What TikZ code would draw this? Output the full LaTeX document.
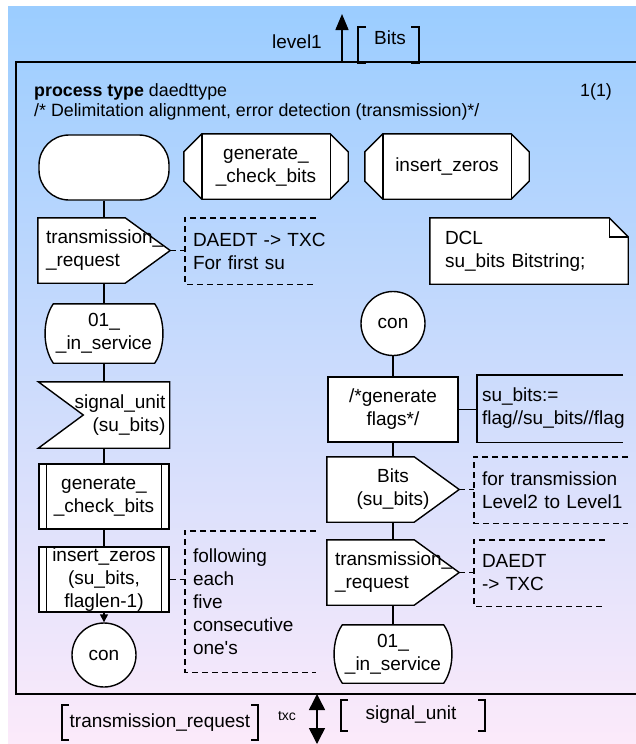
\documentclass[tikz,border=0pt]{standalone}
\usepackage{fontspec}
\setmainfont{Liberation Sans}
\usetikzlibrary{positioning}
\usetikzlibrary{arrows.meta}
\usetikzlibrary{calc}
\pgfdeclarelayer{back}
\pgfdeclarelayer{outline}
\pgfsetlayers{back,outline,main}
\definecolor{skytop}{RGB}{155,205,255}
\definecolor{pinkbot}{RGB}{252,234,250}
\tikzset{
  lbl/.style={inner sep=0pt,font=\fontsize{19}{23}\selectfont,align=center},
  hdrlbl/.style={inner sep=0pt,font=\fontsize{17.8}{21}\selectfont},
  ln/.style={draw=black,line width=1.4pt},
  symb/.style={ln,fill=white},
  cmtline/.style={ln,dash pattern=on 6pt off 4pt},
  frameline/.style={draw=black,line width=2pt},
  chanarrow/.style={draw=black,line width=1.5pt},
  outsym/.style={lbl,minimum width=132pt,minimum height=65pt,text width=116pt,inner xsep=8pt,align=left},
  insym/.style={lbl,minimum width=131pt,minimum height=66pt,text width=123pt,inner xsep=4pt,align=right},
  statesym/.style={lbl,minimum width=117pt,minimum height=59pt},
  procref/.style={lbl,minimum width=128pt,minimum height=65pt},
  proccall/.style={lbl,symb,minimum width=130pt,minimum height=65pt},
  tasksym/.style={lbl,symb,minimum width=130pt,minimum height=65pt},
  consym/.style={lbl,symb,circle,minimum size=64pt},
  cmtbox/.style={lbl,align=left,inner xsep=8pt},
}
\begin{document}
\begin{tikzpicture}[x=1pt,y=-1pt]
\useasboundingbox (0,0) rectangle (636,744);
\begin{pgfonlayer}{back}
  \shade[top color=skytop,bottom color=pinkbot] (8,6) rectangle (636,744);
\end{pgfonlayer}
% frame of the process
\draw[frameline] (640,62) -- (16,62) -- (16,694) -- (640,694);
\node at (34,92) [hdrlbl,anchor=west] (hdr) {\textbf{process type} daedttype};
\node at (34,112) [hdrlbl,anchor=west] (hcmt) {/* Delimitation alignment, error detection (transmission)*/};
\node at (596,92) [hdrlbl] (pgno) {1(1)};
% channel to level1
\coordinate (chtop) at (342,62);
\coordinate (chtopend) at (342,14);
\draw[chanarrow,-{Triangle[length=16pt,width=13pt]}] (chtop) -- (chtopend);
\node at (297,42) [lbl] (lvl) {level1};
\node at (390,38) [lbl] (sigup) {Bits};
\draw[ln] (366,27) -- (358,27) -- (358,63) -- (366,63);
\draw[ln] (411,27) -- (419,27) -- (419,63) -- (411,63);
% procedure references
\node at (266,166.5) [procref] (pgcb) {generate\_\\\_check\_bits};
\node at (447,166.5) [procref] (piz) {insert\_zeros};
\begin{pgfonlayer}{outline}
  \foreach \p in {pgcb,piz}{
    \draw[symb] (\p.north west) -- ($(\p.north west)+(-18,18)$) -- ($(\p.south west)+(-18,-18)$)
      -- (\p.south west) -- (\p.south east) -- ($(\p.south east)+(18,-18)$)
      -- ($(\p.north east)+(18,18)$) -- (\p.north east) -- cycle;
    \draw[ln] (\p.north west) -- (\p.south west);
    \draw[ln] (\p.north east) -- (\p.south east);
  }
\end{pgfonlayer}
% declaration
\node at (529,251) [cmtbox,minimum width=198pt,minimum height=66pt,text width=168pt,inner xsep=15pt] (dcl) {DCL\\su\_bits Bitstring;};
\begin{pgfonlayer}{outline}
  \draw[symb] (dcl.north west) -- ($(dcl.north east)+(-19,0)$) -- ($(dcl.north east)+(0,19)$)
    -- (dcl.south east) -- (dcl.south west) -- cycle;
  \draw[ln] ($(dcl.north east)+(-19,0)$) -- ($(dcl.north east)+(-19,19)$) -- ($(dcl.north east)+(0,19)$);
\end{pgfonlayer}
% left branch
\node at (104,167.5) [lbl,symb,rounded corners=30pt,minimum width=130pt,minimum height=65pt] (start) {};
\node at (104,250.5) [outsym] (treq1) {transmission\_\\\_request};
\node at (104,333.5) [statesym] (st1) {01\_\\\_in\_service};
\node at (104,415) [insym] (sig) {signal\_unit\\(su\_bits)};
\node at (104,496.5) [proccall] (gcb) {generate\_\\\_check\_bits};
\node at (104,579.5) [proccall] (iz) {insert\_zeros\\(su\_bits,\\flaglen-1)};
\node at (104,655) [consym] (con1) {con};
\foreach \p in {gcb,iz}{
  \draw[ln] ($(\p.north west)+(8,0)$) -- ($(\p.south west)+(8,0)$);
  \draw[ln] ($(\p.north east)+(-8,0)$) -- ($(\p.south east)+(-8,0)$);
}
% right branch
\node at (393,323.5) [consym] (con2) {con};
\node at (393,409.5) [tasksym] (task) {/*generate\\flags*/};
\node at (393,489.5) [outsym,align=center] (bits) {Bits\\(su\_bits)};
\node at (393,572.5) [outsym] (treq2) {transmission\_\\\_request};
\node at (393,654) [statesym,minimum height=58pt] (st2) {01\_\\\_in\_service};
\begin{pgfonlayer}{outline}
  \foreach \p in {treq1,bits,treq2}{
    \draw[symb] (\p.north west) -- ($(\p.north east)+(-45,0)$) -- (\p.east)
      -- ($(\p.south east)+(-45,0)$) -- (\p.south west) -- cycle;
  }
  \draw[symb] (sig.north west) -- (sig.north east) -- (sig.south east) -- (sig.south west)
    -- ($(sig.west)+(45,0)$) -- cycle;
  \foreach \p in {st1,st2}{
    \draw[symb] ($(\p.north west)+(8,0)$) -- ($(\p.north east)+(-8,0)$)
      .. controls ($(\p.north east)+(3,16)$) and ($(\p.south east)+(3,-16)$) .. ($(\p.south east)+(-8,0)$)
      -- ($(\p.south west)+(8,0)$)
      .. controls ($(\p.south west)+(-3,-16)$) and ($(\p.north west)+(-3,16)$) .. cycle;
  }
\end{pgfonlayer}
% flow lines
\draw[ln] (start.south) -- (treq1.north);
\draw[ln] (treq1.south) -- (st1.north);
\draw[ln] (st1.south) -- (sig.north);
\draw[ln] (sig.south) -- (gcb.north);
\draw[ln] (gcb.south) -- (iz.north);
\draw[ln,-{Triangle[length=8pt,width=8pt]}] (iz.south) -- (con1.north);
\draw[ln] (con2.south) -- (task.north);
\draw[ln] (task.south) -- (bits.north);
\draw[ln] (bits.south) -- (treq2.north);
\draw[ln] (treq2.south) -- (st2.north);
% comments
\node at (250.5,251) [cmtbox,minimum width=131pt,minimum height=66pt,text width=115pt] (c1) {\mbox{DAEDT -> TXC}\\For first su};
\node at (250.5,601.5) [cmtbox,minimum width=131pt,minimum height=141pt,text width=115pt] (c2) {following\\each\\five\\consecutive\\one\textquotesingle s};
\node at (551,490) [cmtbox,minimum width=154pt,minimum height=66pt,text width=138pt] (c3) {\mbox{for transmission}\\\mbox{Level2 to Level1}};
\node at (539.5,573) [cmtbox,minimum width=131pt,minimum height=66pt,text width=115pt] (c4) {DAEDT\\-> TXC};
\foreach \c in {c1,c2,c3,c4}{
  \draw[cmtline] (\c.north east) -- (\c.north west) -- (\c.south west) -- (\c.south east);
}
\draw[cmtline] (treq1.east) -- (treq1.east -| c1.west);
\draw[cmtline] (iz.east) -- (iz.east -| c2.west);
\draw[cmtline] (bits.east) -- (bits.east -| c3.west);
\draw[cmtline] (treq2.east) -- (treq2.east -| c4.west);
% text extension
\node at (550,408.5) [cmtbox,minimum width=146pt,minimum height=67pt,text width=136pt,inner xsep=5pt] (ext) {su\_bits:=\\\mbox{flag//su\_bits//flag}};
\draw[ln] (ext.north east) -- (ext.north west) -- (ext.south west) -- (ext.south east);
\draw[ln] (task.east) -- (task.east -| ext.west);
% channel to txc
\coordinate (chbot) at (317,694);
\coordinate (chbotend) at (317,744);
\draw[chanarrow,{Triangle[length=16pt,width=16pt]}-{Triangle[length=16pt,width=16pt]}] (chbot) -- (chbotend);
\node at (287,716) [lbl,font=\fontsize{14}{16}\selectfont] (txc) {txc};
\node at (160,723) [lbl] (sldown) {transmission\_request};
\draw[ln] (69,705) -- (62,705) -- (62,740) -- (69,740);
\draw[ln] (251,705) -- (258,705) -- (258,740) -- (251,740);
\node at (411,715) [lbl] (slup) {signal\_unit};
\draw[ln] (348,700) -- (341,700) -- (341,731) -- (348,731);
\draw[ln] (478,700) -- (485,700) -- (485,731) -- (478,731);
\end{tikzpicture}
\end{document}
